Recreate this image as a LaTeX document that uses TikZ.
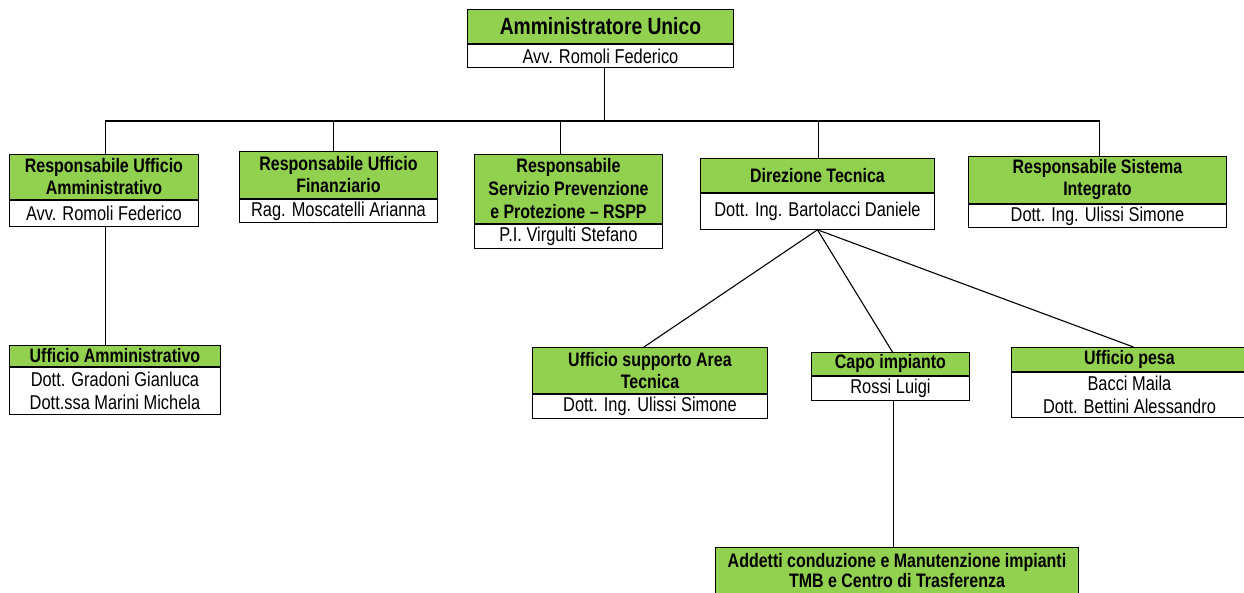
\documentclass[tikz,border=0pt]{standalone}
\usepackage{fontspec}
\setmainfont{Liberation Sans}[FakeStretch=0.82]
\definecolor{hdrgreen}{RGB}{146,208,80}
\newcommand\orgTitleFont{\bfseries\fontsize{23.5}{26}\selectfont}
\newcommand\orgHdrFont{\bfseries\fontsize{19.5}{22}\selectfont}
\newcommand\orgBodyFont{\fontsize{20}{23}\selectfont}
\begin{document}
\begin{tikzpicture}[x=1pt,y=-1pt,
  hdr/.style={draw=black, line width=0.9pt, fill=hdrgreen, inner sep=0pt,
    anchor=north west, align=center, font=\orgHdrFont},
  body/.style={draw=black, line width=0.9pt, fill=white, inner sep=0pt,
    anchor=north west, align=center, font=\orgBodyFont},
  link/.style={draw=black, line width=1.1pt}]
\fill[white] (0,0) rectangle (1244,592);
\useasboundingbox (0,0) rectangle (1244,592);

% Amministratore Unico
\node[hdr, minimum width=266, minimum height=34, font=\orgTitleFont] (auh) at (467,9) {Amministratore Unico};
\node[body, minimum width=266, minimum height=23] (aub) at (auh.south west) {Avv. Romoli Federico};

% Row 2
\node[hdr, minimum width=189, minimum height=45] (ruah) at (9,154) {Responsabile Ufficio\\Amministrativo};
\node[body, minimum width=189, minimum height=26] (ruab) at (ruah.south west) {Avv. Romoli Federico};

\node[hdr, minimum width=198, minimum height=47] (rufh) at (239,151) {Responsabile Ufficio\\Finanziario};
\node[body, minimum width=198, minimum height=23] (rufb) at (rufh.south west) {Rag. Moscatelli Arianna};

\node[hdr, minimum width=188, minimum height=69, font=\bfseries\fontsize{19.5}{23}\selectfont] (rspph) at (474,154) {Responsabile\\Servizio Prevenzione\\e Protezione -- RSPP};
\node[body, minimum width=188, minimum height=24] (rsppb) at (rspph.south west) {P.I. Virgulti Stefano};

\node[hdr, minimum width=234, minimum height=34] (dth) at (700,158) {Direzione Tecnica};
\node[body, minimum width=234, minimum height=36] (dtb) at (dth.south west) {Dott. Ing. Bartolacci Daniele};

\node[hdr, minimum width=258, minimum height=47] (rsih) at (968,156) {Responsabile Sistema\\Integrato};
\node[body, minimum width=258, minimum height=23] (rsib) at (rsih.south west) {Dott. Ing. Ulissi Simone};

% Row 3
\node[hdr, minimum width=211, minimum height=21] (uah) at (9,345) {Ufficio Amministrativo};
\node[body, minimum width=211, minimum height=47] (uab) at (uah.south west) {Dott. Gradoni Gianluca\\Dott.ssa Marini Michela};

\node[hdr, minimum width=235, minimum height=46] (usth) at (532,347) {Ufficio supporto Area\\Tecnica};
\node[body, minimum width=235, minimum height=24] (ustb) at (usth.south west) {Dott. Ing. Ulissi Simone};

\node[hdr, minimum width=158, minimum height=23] (cih) at (811,352) {Capo impianto};
\node[body, minimum width=158, minimum height=24] (cib) at (cih.south west) {Rossi Luigi};

\node[hdr, minimum width=236, minimum height=24] (uph) at (1011,347) {Ufficio pesa};
\node[body, minimum width=236, minimum height=45] (upb) at (uph.south west) {Bacci Maila\\Dott. Bettini Alessandro};

% Bottom
\node[hdr, minimum width=363, minimum height=47, font=\bfseries\fontsize{19.5}{20}\selectfont] (addh) at (715,547) {Addetti conduzione e Manutenzione impianti\\TMB e Centro di Trasferenza};

% Connectors
\coordinate (busy) at (0,121);
\coordinate (auc) at ([xshift=4pt]aub.south);
\coordinate (ruat) at ([xshift=1.5pt]ruah.north);
\coordinate (ruft) at ([xshift=-5pt]rufh.north);
\coordinate (rsppt) at ([xshift=-8pt]rspph.north);
\coordinate (dtt) at ([xshift=1pt]dth.north);
\coordinate (rsit) at ([xshift=2pt]rsih.north);
\draw[link] (auc) -- (auc |- busy);
\draw[link] (ruat) -- (ruat |- busy) -- (rsit |- busy) -- (rsit);
\draw[link] (ruft) -- (ruft |- busy);
\draw[link] (rsppt) -- (rsppt |- busy);
\draw[link] (dtt) -- (dtt |- busy);

\coordinate (ruac) at ([xshift=1.5pt]ruab.south);
\draw[link] (ruac) -- (ruac |- uah.north);

\draw[link] (dtb.south) -- ([xshift=-6pt]usth.north);
\draw[link] (dtb.south) -- ([xshift=2pt]cih.north);
\draw[link] (dtb.south) -- ([xshift=4pt]uph.north);

\coordinate (cic) at ([xshift=3pt]cib.south);
\draw[link] (cic) -- (cic |- addh.north);
\end{tikzpicture}
\end{document}
